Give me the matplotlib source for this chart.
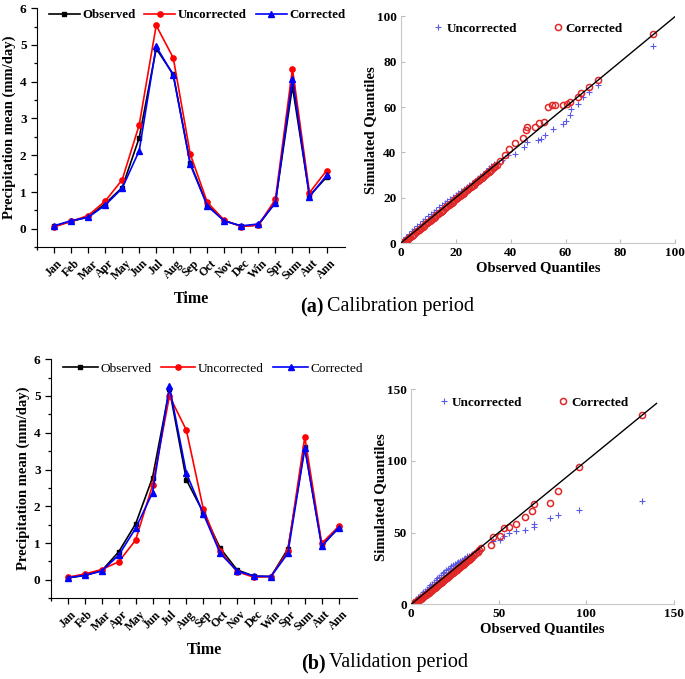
import numpy as np
import matplotlib
matplotlib.use("Agg")
import matplotlib.pyplot as plt

plt.rcParams['font.family'] = ['Liberation Serif', 'DejaVu Serif']

# categories
periods = ['Jan', 'Feb', 'Mar', 'Apr', 'May', 'Jun', 'Jul', 'Aug', 'Sep',
           'Oct', 'Nov', 'Dec', 'Win', 'Spr', 'Sum', 'Aut', 'Ann']

# (a) calibration period - mean precipitation (mm/day)
cal_obs = [0.07, 0.20, 0.32, 0.68, 1.12, 2.47, 4.90, 4.20, 1.78, 0.65, 0.22, 0.07, 0.10, 0.72, 3.87, 0.90, 1.40]
cal_unc = [0.05, 0.20, 0.36, 0.75, 1.33, 2.82, 5.53, 4.65, 2.03, 0.72, 0.23, 0.06, 0.10, 0.80, 4.35, 0.98, 1.58]
cal_cor = [0.08, 0.22, 0.31, 0.64, 1.10, 2.12, 4.96, 4.18, 1.75, 0.62, 0.21, 0.08, 0.13, 0.70, 4.08, 0.87, 1.45]

# (b) validation period
val_obs = [0.05, 0.12, 0.25, 0.76, 1.52, 2.78, 5.18, 2.72, 1.83, 0.86, 0.27, 0.10, 0.09, 0.84, 3.60, 0.95, 1.40]
val_unc = [0.07, 0.16, 0.28, 0.49, 1.08, 2.57, 5.00, 4.07, 1.93, 0.78, 0.22, 0.07, 0.09, 0.78, 3.88, 0.99, 1.45]
val_cor = [0.06, 0.12, 0.24, 0.67, 1.40, 2.37, 5.26, 2.90, 1.80, 0.72, 0.24, 0.10, 0.09, 0.72, 3.58, 0.91, 1.42]

# Q-Q data, calibration (observed quantile, simulated quantile)
cal_unc_x = [0, 0.5, 1, 1.5, 2, 3, 4, 5, 6, 7, 8, 9, 10, 11, 12, 13, 14, 15, 16, 17, 18, 19, 20,
             21, 22, 23, 24, 25, 26, 27, 28, 29, 30, 31, 32, 33, 34, 35,
             37, 39, 41.5, 45, 46, 50, 51, 52.4, 55.4, 59, 60.2, 61.5, 62, 64.5, 66.3, 68.7, 71.8, 91.8]
cal_unc_y = [0, 0.6, 1.3, 2.0, 2.7, 4.0, 5.2, 6.4, 7.5, 8.6, 9.7, 10.8, 11.8, 12.8, 13.8, 14.8, 15.7, 16.6,
             17.5, 18.4, 19.3, 20.2, 21.1, 21.9, 22.8, 23.8, 24.7, 25.6, 26.5, 27.4, 28.6, 29.5, 30.5,
             31.6, 33.0, 33.8, 34.7, 35.3,
             36.6, 38.7, 39.4, 42.4, 44.6, 45.3, 46, 47.5, 50.4, 52.6, 54, 56.3, 59.3, 61.5, 64.4, 66.6, 69.5, 86.8]
cal_cor_x = [0, 0.3, 0.6, 1, 1.4, 1.8, 2.2, 2.6, 3, 3.5, 4, 4.5, 5, 5.5, 6, 6.5, 7, 7.5, 8, 8.5,
             9, 9.5, 10, 10.5, 11, 11.5, 12, 12.5, 13, 13.5, 14, 14.5, 15, 15.5, 16, 16.5, 17, 17.5,
             18, 18.5, 19, 19.5, 20, 20.5, 21, 21.5, 22, 22.5, 23, 23.5, 24, 24.5, 25, 25.5, 26, 26.5,
             27, 27.5, 28, 28.5, 29, 29.5, 30, 30.5, 31, 31.5, 32, 32.5, 33, 33.5, 34, 34.5, 35,
             36, 38, 39.5, 41.5, 44.5, 45.5, 46, 49, 50.5, 52, 53.5, 55, 56, 59, 60.5, 61.5,
             64.5, 65.5, 68.5, 72, 92]
cal_cor_y = [0, 0.0, 0.1, 0.3, 0.6, 0.9, 1.3, 1.8, 2.2, 2.7, 3.2, 3.7, 4.2, 4.7, 5.2, 5.7, 6.2, 6.7, 7.2, 7.7,
             8.2, 8.7, 9.2, 9.7, 10.2, 10.7, 11.2, 11.7, 12.2, 12.7, 13.3, 13.8, 14.3, 14.8, 15.3, 15.8,
             16.3, 16.8, 17.3, 17.8, 18.3, 18.8, 19.3, 19.8, 20.3, 20.8, 21.3, 21.8, 22.3, 22.8, 23.3,
             23.8, 24.3, 24.8, 25.3, 25.8, 26.3, 26.8, 27.3, 27.8, 28.3, 28.8, 29.3, 29.8, 30.3, 30.8,
             31.4, 31.9, 32.4, 32.9, 33.5, 34.0, 34.6,
             36, 39, 41.5, 44, 46.5, 50, 51, 51.3, 53, 53.5, 60, 61, 61, 61, 61.2, 62,
             64.4, 66, 69, 72, 92]

# Q-Q data, validation
val_unc_x = [0, 1, 2, 3, 4, 5, 6, 7, 8, 9, 10, 11, 12, 13, 14, 15, 16, 17, 18, 19, 20,
             21, 22, 23, 24, 25, 26, 27, 28, 29, 30, 31, 32, 33, 34, 35, 37, 39,
             47, 51, 53, 56, 60, 65, 70, 70, 79, 84, 96, 132]
val_unc_y = [0, 1.2, 2.4, 3.6, 4.8, 6.0, 7.2, 8.4, 9.6, 10.8, 12.0, 13.2, 14.4, 15.6, 16.8, 18.0, 19.2,
             20.3, 21.5, 22.6, 23.7, 24.7, 25.6, 26.5, 27.3, 28.0, 28.8, 29.5, 30.2, 31.0, 31.8, 32.6,
             33.4, 34.0, 34.6, 35.2, 36.5, 38.0,
             44, 45, 47.5, 50, 51, 52, 54, 56, 60, 62, 66, 72]
val_cor_x = [0, 0.5, 1, 1.5, 2, 2.5, 3, 3.5, 4, 4.5, 5, 5.5, 6, 6.5, 7, 7.5, 8, 8.5, 9, 9.5,
             10, 10.5, 11, 11.5, 12, 12.5, 13, 13.5, 14, 14.5, 15, 15.5, 16, 16.5, 17, 17.5, 18, 18.5,
             19, 19.5, 20, 20.5, 21, 21.5, 22, 22.5, 23, 23.5, 24, 24.5, 25, 25.5, 26, 26.5, 27, 27.5,
             28, 28.5, 29, 29.5, 30, 30.5, 31, 31.5, 32, 32.5, 33, 33.5, 34, 34.5, 35, 36, 37, 38, 39, 40,
             45.5, 47, 51, 53, 56, 60, 65, 69, 70, 79, 84, 96, 132]
val_cor_y = [0, 0.0, 0.2, 0.5, 0.9, 1.3, 1.7, 2.1, 2.6, 3.0, 3.5, 3.9, 4.4, 4.8, 5.3, 5.8, 6.2, 6.7, 7.2, 7.7,
             8.1, 8.6, 9.1, 9.6, 10.1, 10.6, 11.1, 11.6, 12.1, 12.6, 13.1, 13.6, 14.1, 14.6, 15.1, 15.6,
             16.1, 16.6, 17.1, 17.6, 18.1, 18.6, 19.1, 19.6, 20.1, 20.6, 21.1, 21.6, 22.1, 22.6, 23.1,
             23.6, 24.1, 24.6, 25.1, 25.6, 26.1, 26.6, 27.1, 27.6, 28.1, 28.6, 29.1, 29.6, 30.1, 30.6,
             31.1, 31.6, 32.2, 32.7, 33.3, 34.4, 35.5, 36.6, 37.8, 39.5,
             41, 47, 47.5, 53, 54, 56, 60.5, 65, 70, 70.5, 79, 96, 132]

fig = plt.figure(figsize=(6.85, 6.79), dpi=100)


def series_panel(ax, obs, unc, cor, bold_legend):
    x = np.arange(len(periods))
    ax.plot(x, obs, color='black', marker='s', ms=3.5, lw=1.2, label='Observed')
    ax.plot(x, unc, color='red', marker='o', ms=3.8, lw=1.2, label='Uncorrected')
    ax.plot(x, cor, color='blue', marker='^', ms=4, lw=1.2, label='Corrected')
    ax.set_xlim(-1, 17.1)
    ax.set_ylim(-0.5, 6)
    ax.set_yticks([0, 1, 2, 3, 4, 5, 6])
    ax.set_yticks(np.arange(-0.5, 6, 1.0), minor=True)
    ax.set_xticks(x)
    ax.set_xticks([-1], minor=True)
    ax.set_xticklabels(periods, rotation=45, fontweight='bold', fontsize=8.5, ha='center', va='top')
    for lab in ax.get_yticklabels():
        lab.set_fontweight('bold')
        lab.set_fontsize(9.5)
    ax.tick_params(axis='both', which='major', direction='out', length=4, width=0.9)
    ax.tick_params(axis='both', which='minor', direction='out', length=2.5, width=0.9)
    ax.spines['top'].set_visible(False)
    ax.spines['right'].set_visible(False)
    ax.set_ylabel('Precipitation mean (mm/day)', fontweight='bold', fontsize=10.5, labelpad=3)
    ax.set_xlabel('Time', fontweight='bold', fontsize=11.5, labelpad=6)
    if bold_legend:
        ax.legend(loc='upper left', bbox_to_anchor=(0.0, 1.045), ncol=3, frameon=False,
                  handlelength=2.4, handletextpad=0.2, columnspacing=0.7,
                  prop={'weight': 'bold', 'size': 9.3})
    else:
        ax.legend(loc='upper left', bbox_to_anchor=(0.0, 1.035), ncol=3, frameon=False,
                  handlelength=2.6, handletextpad=0.2, columnspacing=0.7,
                  prop={'size': 9.6})


def qq_panel(ax, ux, uy, cx, cy, lim, line_end, ticks, anchor):
    ax.plot([0, line_end], [0, line_end], color='black', lw=1.0, zorder=3)
    ax.plot(ux, uy, ls='none', marker='+', ms=4.5, mew=0.8, color='#5a5ae6', label='Uncorrected', zorder=2)
    ax.plot(cx, cy, ls='none', marker='o', ms=4.4, mew=1.1, mfc='none', color='#e02828', label='Corrected', zorder=2)
    ax.set_xlim(0, lim)
    ax.set_ylim(0, lim)
    ax.set_xticks(ticks)
    ax.set_yticks(ticks)
    for lab in ax.get_xticklabels() + ax.get_yticklabels():
        lab.set_fontweight('bold')
        lab.set_fontsize(9.5)
    ax.tick_params(direction='in', length=3, color='#bbbbbb', pad=3)
    for s in ['top', 'right']:
        ax.spines[s].set_visible(False)
    for s in ['left', 'bottom']:
        ax.spines[s].set_color('#c8c8c8')
    ax.set_xlabel('Observed Quantiles', fontweight='bold', fontsize=10.5, labelpad=1)
    ax.set_ylabel('Simulated Quantiles', fontweight='bold', fontsize=10.5, labelpad=0)
    ax.legend(loc='upper left', bbox_to_anchor=anchor, ncol=2, frameon=False,
              handlelength=0.8, handletextpad=0.2, columnspacing=2.7,
              prop={'weight': 'bold', 'size': 9.5})


ax1 = fig.add_axes([0.054, 0.636, 0.45, 0.352])
series_panel(ax1, cal_obs, cal_unc, cal_cor, True)

ax2 = fig.add_axes([0.585, 0.642, 0.401, 0.334])
qq_panel(ax2, cal_unc_x, cal_unc_y, cal_cor_x, cal_cor_y, 100, 100, [0, 20, 40, 60, 80, 100], (0.075, 1.025))

ax3 = fig.add_axes([0.0745, 0.119, 0.447, 0.352])
series_panel(ax3, val_obs, val_unc, val_cor, False)

ax4 = fig.add_axes([0.600, 0.110, 0.384, 0.317])
qq_panel(ax4, val_unc_x, val_unc_y, val_cor_x, val_cor_y, 150, 140, [0, 50, 100, 150], (0.06, 1.02))

fig.text(0.472, 1 - 307 / 679, '(a)', fontweight='bold', fontsize=14.5, ha='right', va='center')
fig.text(0.477, 1 - 307 / 679, 'Calibration period', fontsize=14.5, ha='left', va='center')
fig.text(0.475, 1 - 663 / 679, '(b)', fontweight='bold', fontsize=14.5, ha='right', va='center')
fig.text(0.480, 1 - 663 / 679, 'Validation period', fontsize=14.5, ha='left', va='center')

fig.savefig('out.png', dpi=100)
